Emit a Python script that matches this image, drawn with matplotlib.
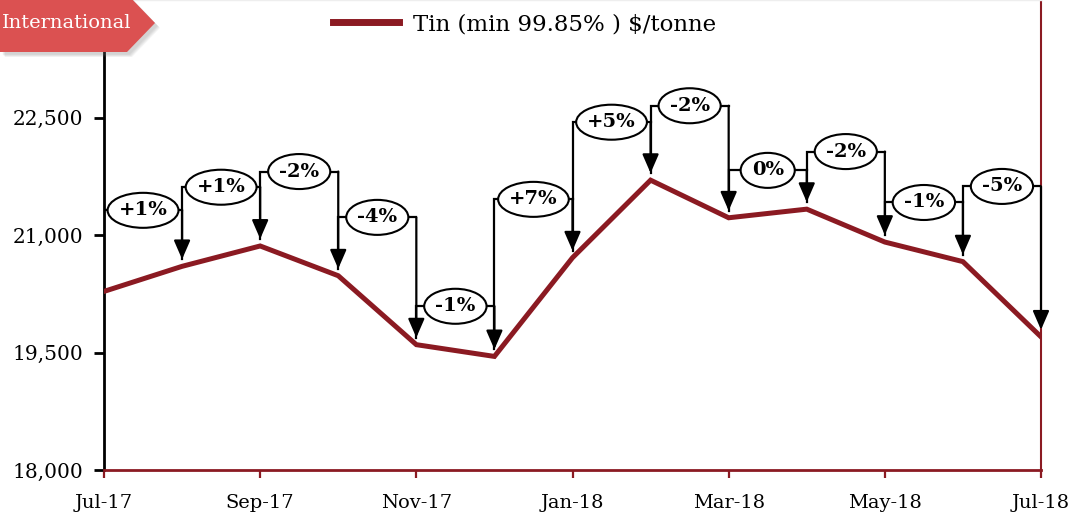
import matplotlib
matplotlib.use('Agg')

import matplotlib.pyplot as plt
from matplotlib.patches import Ellipse, Polygon
from matplotlib.ticker import FuncFormatter

# Monthly tin price, $/tonne
months = ['Jul-17', 'Aug-17', 'Sep-17', 'Oct-17', 'Nov-17', 'Dec-17', 'Jan-18',
          'Feb-18', 'Mar-18', 'Apr-18', 'May-18', 'Jun-18', 'Jul-18']
prices = [20280, 20600, 20860, 20480, 19600, 19450, 20710,
          21700, 21220, 21330, 20910, 20660, 19700]

# month-on-month change labels and the level of each bracket
changes = ['+1%', '+1%', '-2%', '-4%', '-1%', '+7%', '+5%', '-2%', '0%', '-2%', '-1%', '-5%']
bracket_levels = [21315, 21610, 21810, 21225, 20090, 21455, 22440, 22650, 21825, 22065, 21415, 21620]

line_red = '#8b1a22'
banner_red = '#db5151'
serif = 'DejaVu Serif'

W, H = 1071, 514
fig = plt.figure(figsize=(W / 100, H / 100), dpi=100)
ax = fig.add_axes([104 / W, 44 / H, 937 / W, 470 / H])

x = list(range(len(months)))
ax.plot(x, prices, color=line_red, lw=3.6, solid_joinstyle='miter',
        label='Tin (min 99.85% ) $/tonne', zorder=3)

ax.set_xlim(0, 12)
ax.set_ylim(18000, 24000)
ax.set_yticks([18000, 19500, 21000, 22500])
ax.yaxis.set_major_formatter(FuncFormatter(lambda v, p: f'{v:,.0f}'))
ax.set_xticks(x[::2])
ax.set_xticklabels(months[::2])

for lab in ax.get_yticklabels():
    lab.set_fontfamily(serif)
    lab.set_fontsize(14.5)
for lab in ax.get_xticklabels():
    lab.set_fontfamily(serif)
    lab.set_fontsize(14)

ax.tick_params(axis='y', direction='out', length=7, width=2, color='black', pad=8)
ax.tick_params(axis='x', direction='out', length=6, width=1.6, color=line_red, pad=11)

ax.spines['left'].set_color('black')
ax.spines['left'].set_linewidth(2)
ax.spines['bottom'].set_color(line_red)
ax.spines['bottom'].set_linewidth(2)
ax.spines['right'].set_color(line_red)
ax.spines['right'].set_linewidth(1.5)
ax.spines['top'].set_color('#eeeeee')
ax.spines['top'].set_linewidth(1)

# bracket arrows with change labels
gap = 90
px_month = 937 / 12
px_unit = 470 / 6000
renderer = fig.canvas.get_renderer()
for i, (lbl, yb) in enumerate(zip(changes, bracket_levels)):
    x0, x1 = i, i + 1
    ax.plot([x0, x0, x1], [prices[i] + gap, yb, yb], color='black', lw=1.6,
            solid_joinstyle='miter', zorder=4)
    ax.annotate('', xy=(x1, prices[i + 1] + gap), xytext=(x1, yb),
                arrowprops=dict(arrowstyle='-|>,head_length=1.15,head_width=0.5',
                                mutation_scale=10, color='black', lw=1.6,
                                shrinkA=0, shrinkB=0), zorder=4)
    xm = (x0 + x1) / 2
    t = ax.text(xm, yb, lbl, ha='center', va='center', family=serif,
                fontweight='bold', fontsize=14, zorder=6)
    tw = t.get_window_extent(renderer).width
    ax.add_patch(Ellipse((xm, yb), (tw + 22) / px_month, 35 / px_unit,
                         facecolor='white', edgecolor='black', lw=1.5, zorder=5))

leg = ax.legend(loc='center left', bbox_to_anchor=(312 / W, 1 - 24 / H),
                bbox_transform=fig.transFigure, frameon=False, handlelength=2.9,
                handletextpad=0.6, prop={'family': serif, 'size': 16.5})
leg.get_lines()[0].set_linewidth(5)

# banner at top left, with a soft shadow
def flip(pts, dx=0, dy=0):
    return [(px + dx, H - (py + dy)) for px, py in pts]

banner_pts = [(0, -6), (127, -6), (155, 23), (127, 52), (0, 52)]
for k in range(5, 0, -1):
    sh = Polygon(flip(banner_pts, 2 + k * 0.6, 2 + k * 0.6), closed=True, transform=None,
                 facecolor='#777777', alpha=0.07, edgecolor='none')
    fig.patches.append(sh)
fig.patches.append(Polygon(flip(banner_pts), closed=True, transform=None,
                           facecolor=banner_red, edgecolor='none'))
fig.text(2 / W, 1 - 23 / H, 'International', ha='left', va='center',
         family=serif, fontsize=14, color='white')

fig.savefig('out.png', dpi=100)
